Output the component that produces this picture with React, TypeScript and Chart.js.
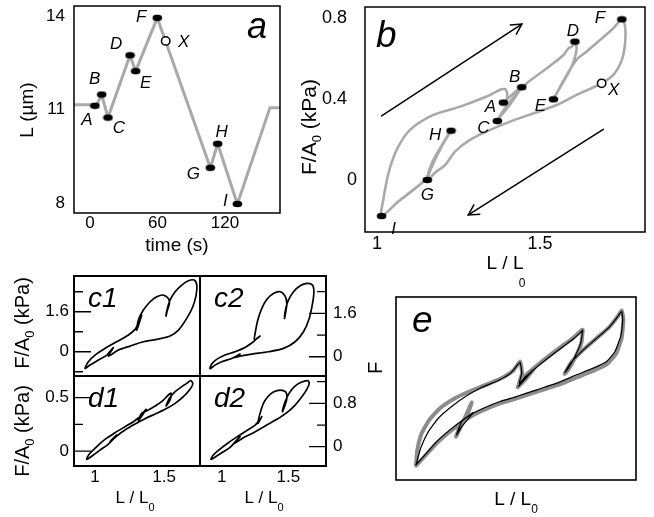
import React, { useEffect, useRef } from 'react';
import { Chart, registerables } from 'chart.js';

Chart.register(...registerables);

const W = 654;
const H = 517;
const FONT = '"Liberation Sans", Arial, Helvetica, sans-serif';
const GRAY = '#a9a9a9';

// ---------------- panel a : length vs time ----------------
const aTime = [-14.2, 6, 10.4, 16, 35.6, 40.6, 59.8, 107, 113.5, 131, 160, 169];
const aLength = [11.15, 11.15, 11.48, 10.74, 12.74, 12.23, 13.94, 9.13, 9.9, 7.97, 11.06, 11.06];
const aMarkNames = ['A', 'B', 'C', 'D', 'E', 'F', 'G', 'H', 'I'];
const aMarkTime = [4.4, 10.4, 16, 35.6, 40.6, 59.8, 107, 113.5, 131];
const aMarkLength = [11.12, 11.48, 10.74, 12.74, 12.23, 13.94, 9.13, 9.9, 7.97];
const aOpenTime = [67.3];
const aOpenLength = [13.2];
const aXTicks = [0, 60, 120];
const aXTickLabels = ['0', '60', '120'];
const aYTicks = [8, 11, 14];
const aYTickLabels = ['8', '11', '14'];

// ---------------- panel b : stress vs strain ----------------
const bCurveX = [1.3875, 1.408, 1.428, 1.444, 1.428, 1.403, 1.382, 1.369, 1.382, 1.408, 1.434, 1.459, 1.5, 1.541, 1.572, 1.587, 1.597, 1.607, 1.612, 1.597, 1.572, 1.551, 1.541, 1.556, 1.582, 1.612, 1.643, 1.684, 1.725, 1.751, 1.761, 1.761, 1.751, 1.725, 1.689, 1.664, 1.612, 1.551, 1.48, 1.408, 1.347, 1.285, 1.239, 1.209, 1.178, 1.154, 1.168, 1.193, 1.227, 1.198, 1.168, 1.152, 1.111, 1.065, 1.014, 1.019, 1.035, 1.06, 1.101, 1.173, 1.255, 1.336, 1.382, 1.396, 1.398, 1.3875];
const bCurveY = [0.382, 0.4115, 0.441, 0.458, 0.42, 0.362, 0.321, 0.291, 0.329, 0.387, 0.436, 0.477, 0.527, 0.576, 0.617, 0.65, 0.658, 0.683, 0.642, 0.56, 0.486, 0.428, 0.398, 0.444, 0.519, 0.593, 0.634, 0.691, 0.749, 0.793, 0.757, 0.675, 0.593, 0.519, 0.477, 0.458, 0.42, 0.37, 0.329, 0.288, 0.247, 0.198, 0.14, 0.074, 0.036, 0, 0.082, 0.156, 0.244, 0.165, 0.066, 0.008, -0.049, -0.107, -0.178, -0.099, 0.033, 0.148, 0.247, 0.321, 0.362, 0.412, 0.448, 0.444, 0.395, 0.382];
const bMarkNames = ['A', 'B', 'C', 'D', 'E', 'F', 'G', 'H', 'I'];
const bMarkX = [1.3875, 1.444, 1.369, 1.607, 1.541, 1.751, 1.154, 1.227, 1.014];
const bMarkY = [0.382, 0.458, 0.291, 0.683, 0.398, 0.793, 0, 0.243, -0.178];
const bOpenX = [1.689];
const bOpenY = [0.477];
const bArrowUpX = [1.014, 1.444];
const bArrowUpY = [0.316, 0.77];
const bArrowDownX = [1.694, 1.28];
const bArrowDownY = [0.25, -0.173];
const bXTicks = [1, 1.5];
const bXTickLabels = ['1', '1.5'];
const bYTicks = [0, 0.4, 0.8];
const bYTickLabels = ['0', '0.4  ', '0.8  '];

// ---------------- panels c1, c2, d1, d2 ----------------
const c1X = [1.314, 1.338, 1.302, 1.314, 1.35, 1.399, 1.447, 1.495, 1.531, 1.539, 1.524, 1.514, 1.524, 1.543, 1.58, 1.628, 1.676, 1.717, 1.737, 1.732, 1.708, 1.664, 1.604, 1.543, 1.447, 1.35, 1.254, 1.169, 1.097, 1.133, 1.085, 1.024, 0.964, 0.928, 0.952, 1.0, 1.072, 1.157, 1.242, 1.29, 1.314];
const c1Y = [1.133, 1.467, 0.867, 1.267, 1.667, 2.0, 2.2, 2.267, 2.133, 1.933, 1.667, 1.427, 1.733, 2.067, 2.4, 2.667, 2.84, 2.867, 2.667, 2.267, 1.8, 1.333, 0.867, 0.627, 0.493, 0.4, 0.227, 0.067, -0.173, 0.173, -0.133, -0.333, -0.533, -0.667, -0.4, -0.133, 0.133, 0.4, 0.667, 0.893, 1.133];
const c2X = [1.263, 1.288, 1.246, 1.251, 1.271, 1.301, 1.338, 1.388, 1.439, 1.476, 1.489, 1.481, 1.471, 1.481, 1.501, 1.539, 1.589, 1.639, 1.682, 1.692, 1.682, 1.657, 1.614, 1.551, 1.464, 1.351, 1.226, 1.138, 1.095, 1.138, 1.075, 1.0, 0.95, 0.912, 0.925, 0.962, 1.025, 1.1, 1.175, 1.238, 1.263];
const c2Y = [0.677, 0.763, 0.615, 0.861, 1.353, 1.784, 2.116, 2.337, 2.399, 2.239, 1.968, 1.661, 1.415, 1.784, 2.091, 2.399, 2.62, 2.706, 2.645, 2.399, 1.968, 1.415, 0.923, 0.554, 0.308, 0.185, 0.098, 0.025, -0.025, 0.098, -0.062, -0.185, -0.308, -0.443, -0.271, -0.098, 0.062, 0.185, 0.344, 0.554, 0.677];
const d1X = [1.326, 1.37, 1.314, 1.338, 1.386, 1.447, 1.495, 1.531, 1.551, 1.543, 1.514, 1.539, 1.58, 1.628, 1.664, 1.693, 1.708, 1.688, 1.64, 1.58, 1.507, 1.435, 1.362, 1.29, 1.217, 1.157, 1.109, 1.157, 1.097, 1.036, 0.988, 0.94, 0.959, 1.007, 1.072, 1.145, 1.217, 1.278, 1.326];
const d1Y = [0.322, 0.391, 0.284, 0.353, 0.384, 0.431, 0.478, 0.525, 0.541, 0.478, 0.422, 0.494, 0.556, 0.603, 0.634, 0.659, 0.628, 0.578, 0.509, 0.447, 0.391, 0.347, 0.303, 0.253, 0.197, 0.141, 0.0875, 0.15, 0.066, 0.009, -0.0375, -0.078, -0.028, 0.034, 0.109, 0.172, 0.228, 0.275, 0.322];
const d2X = [1.281, 1.301, 1.271, 1.288, 1.313, 1.346, 1.388, 1.439, 1.481, 1.489, 1.476, 1.456, 1.476, 1.506, 1.546, 1.596, 1.647, 1.657, 1.639, 1.602, 1.551, 1.489, 1.414, 1.326, 1.238, 1.163, 1.088, 1.138, 1.063, 1.013, 0.962, 0.92, 0.937, 0.987, 1.05, 1.125, 1.195, 1.251, 1.281];
const d2Y = [0.48, 0.554, 0.431, 0.615, 0.8, 0.923, 1.009, 1.046, 1.009, 0.892, 0.769, 0.646, 0.831, 0.985, 1.108, 1.188, 1.218, 1.169, 1.058, 0.923, 0.769, 0.628, 0.505, 0.382, 0.258, 0.166, 0.049, 0.185, -0.012, -0.092, -0.172, -0.234, -0.154, -0.043, 0.074, 0.197, 0.308, 0.4, 0.48];
const cdXTicks = [1, 1.5];
const cdXTickLabels = ['1', '1.5'];
const c1YTicks = [0, 1.6];
const c1YTickLabels = ['0', '1.6'];
const c1MinorTicks = [-0.8, 0, 0.8, 1.6, 2.4];
const c2YTicks = [0, 1.6];
const c2YTickLabels = ['0', '1.6'];
const c2MinorTicks = [0, 0.8, 1.6, 2.4];
const d1YTicks = [0, 0.5];
const d1YTickLabels = ['0', '0.5'];
const d1MinorTicks = [0, 0.25, 0.5];
const d2YTicks = [0, 0.8];
const d2YTickLabels = ['0', '0.8'];
const d2MinorTicks = [0, 0.4, 0.8, 1.2];

// ---------------- panel e ----------------
const eBlackX = [1.025, 1.0425, 1.07125, 1.10875, 1.15875, 1.215, 1.27125, 1.33375, 1.38, 1.415, 1.42125, 1.4125, 1.44, 1.465, 1.43375, 1.40875, 1.43375, 1.4775, 1.5275, 1.5775, 1.615, 1.6425, 1.65, 1.6425, 1.62125, 1.59625, 1.58375, 1.6025, 1.64625, 1.69625, 1.74625, 1.7775, 1.79625, 1.8, 1.7925, 1.77125, 1.74, 1.69, 1.6275, 1.5525, 1.4775, 1.4025, 1.34, 1.2775, 1.2275, 1.19625, 1.1775, 1.19625, 1.24, 1.20875, 1.1525, 1.1025, 1.05875, 1.025];
const eBlackY = [0.1125, 0.2375, 0.3625, 0.4625, 0.55, 0.63, 0.6925, 0.745, 0.8, 0.88, 0.8, 0.725, 0.78, 0.825, 0.755, 0.7, 0.77, 0.845, 0.925, 1.0, 1.055, 1.105, 1.12, 1.025, 0.925, 0.8375, 0.805, 0.87, 0.9625, 1.05, 1.1375, 1.2125, 1.2625, 1.2, 1.075, 0.9625, 0.8875, 0.8375, 0.7875, 0.725, 0.675, 0.625, 0.5875, 0.5375, 0.4875, 0.4375, 0.3375, 0.4, 0.505, 0.4625, 0.375, 0.2875, 0.1875, 0.1125];
const eGrayX = [1.025, 1.03, 1.04625, 1.075, 1.115, 1.17125, 1.23375, 1.29625, 1.3525, 1.39, 1.415, 1.4225, 1.41, 1.4425, 1.4675, 1.43375, 1.40625, 1.43375, 1.4775, 1.5275, 1.5775, 1.615, 1.6425, 1.65, 1.645, 1.6225, 1.5975, 1.5825, 1.605, 1.65, 1.7, 1.75, 1.78, 1.79625, 1.8025, 1.79625, 1.775, 1.7425, 1.6925, 1.63, 1.555, 1.48, 1.405, 1.3425, 1.28, 1.23, 1.19625, 1.175, 1.19625, 1.23375, 1.20875, 1.1525, 1.1025, 1.05875, 1.025];
const eGrayY = [0.1125, 0.225, 0.35, 0.45, 0.5375, 0.6125, 0.67, 0.72, 0.77, 0.82, 0.8875, 0.8, 0.7125, 0.7875, 0.835, 0.75, 0.695, 0.78, 0.855, 0.935, 1.01, 1.065, 1.115, 1.125, 1.025, 0.92, 0.83, 0.795, 0.875, 0.97, 1.0575, 1.145, 1.22, 1.27, 1.2, 1.0625, 0.945, 0.87, 0.82, 0.77, 0.71, 0.6625, 0.6125, 0.575, 0.525, 0.475, 0.425, 0.325, 0.4125, 0.58, 0.45, 0.3625, 0.275, 0.18, 0.1075];

// ---------------- helpers ----------------
type Area = { l: number; t: number; r: number; b: number };
const zip = (xs: number[], ys: number[]) => xs.map((x, i) => ({ x, y: ys[i] }));
const fnt = (size: number, italic = false) => `${italic ? 'italic ' : ''}${size}px ${FONT}`;

let ellipseImg: HTMLCanvasElement | null = null;
function getEllipse() {
  if (!ellipseImg) {
    const c = document.createElement('canvas');
    c.width = 11;
    c.height = 8;
    const g = c.getContext('2d')!;
    g.fillStyle = '#000';
    g.beginPath();
    g.ellipse(5.5, 4, 4.8, 3.2, 0, 0, Math.PI * 2);
    g.fill();
    ellipseImg = c;
  }
  return ellipseImg;
}

function txt(ctx: any, s: string, x: number, y: number, size: number, italic = false, align = 'center', baseline = 'middle') {
  ctx.font = fnt(size, italic);
  ctx.fillStyle = '#000';
  ctx.textAlign = align;
  ctx.textBaseline = baseline;
  ctx.fillText(s, x, y);
}

function rich(ctx: any, parts: [string, boolean][], cx: number, cy: number, size: number, subSize: number, subDrop: number, rot = 0) {
  ctx.save();
  ctx.translate(cx, cy);
  ctx.rotate(rot);
  ctx.fillStyle = '#000';
  ctx.textAlign = 'left';
  ctx.textBaseline = 'alphabetic';
  const ws = parts.map(([s, sub]) => {
    ctx.font = fnt(sub ? subSize : size);
    return ctx.measureText(s).width;
  });
  let x = -ws.reduce((a, b) => a + b, 0) / 2;
  const base = size * 0.36;
  parts.forEach(([s, sub], i) => {
    ctx.font = fnt(sub ? subSize : size);
    ctx.fillText(s, x, base + (sub ? subDrop : 0));
    x += ws[i];
  });
  ctx.restore();
}

function frame(ctx: any, chart: any, lw: number) {
  const a = chart.chartArea;
  ctx.lineWidth = lw;
  ctx.strokeStyle = '#000';
  ctx.strokeRect(a.left, a.top, a.right - a.left, a.bottom - a.top);
}

function innerTicks(ctx: any, chart: any, values: number[], longValues: number[], side: string) {
  const a = chart.chartArea;
  const ys = chart.scales.y;
  ctx.lineWidth = 1.3;
  ctx.strokeStyle = '#000';
  ctx.beginPath();
  values.forEach((v) => {
    const py = ys.getPixelForValue(v);
    const len = longValues.includes(v) ? 17 : 9;
    if (side === 'left') {
      ctx.moveTo(a.left, py);
      ctx.lineTo(a.left + len, py);
    } else {
      ctx.moveTo(a.right, py);
      ctx.lineTo(a.right - len, py);
    }
  });
  ctx.stroke();
}

function pointNames(ctx: any, chart: any, xs: number[], ys: number[], names: string[], offs: number[][], size: number) {
  const sx = chart.scales.x;
  const sy = chart.scales.y;
  names.forEach((n, i) => {
    txt(ctx, n, sx.getPixelForValue(xs[i]) + offs[i][0], sy.getPixelForValue(ys[i]) + offs[i][1], size, true);
  });
}

function arrowHead(ctx: any, chart: any, xs: number[], ys: number[]) {
  const sx = chart.scales.x;
  const sy = chart.scales.y;
  const x0 = sx.getPixelForValue(xs[0]);
  const y0 = sy.getPixelForValue(ys[0]);
  const x1 = sx.getPixelForValue(xs[1]);
  const y1 = sy.getPixelForValue(ys[1]);
  const ang = Math.atan2(y1 - y0, x1 - x0);
  const L = 12;
  const sp = 0.5;
  ctx.lineWidth = 1.5;
  ctx.strokeStyle = '#000';
  ctx.beginPath();
  ctx.moveTo(x1 - L * Math.cos(ang - sp), y1 - L * Math.sin(ang - sp));
  ctx.lineTo(x1, y1);
  ctx.lineTo(x1 - L * Math.cos(ang + sp), y1 - L * Math.sin(ang + sp));
  ctx.stroke();
}

// boxSize: the thickness the axis occupies (from the plot edge to the canvas edge)
function scale(min: number, max: number, ticks: number[], labels: string[], position: string, size: number, padding: number, boxSize: number) {
  const horizontal = position === 'bottom' || position === 'top';
  return {
    type: 'linear',
    position,
    min,
    max,
    grid: { display: false, drawTicks: false, tickLength: 0 },
    border: { display: false },
    afterFit: (s: any) => {
      if (horizontal) s.height = boxSize;
      else s.width = boxSize;
      s.paddingTop = 0;
      s.paddingBottom = 0;
      s.paddingLeft = 0;
      s.paddingRight = 0;
    },
    afterBuildTicks: (s: any) => {
      if (ticks.length) s.ticks = ticks.map((v) => ({ value: v }));
    },
    ticks: {
      display: ticks.length > 0,
      autoSkip: false,
      maxRotation: 0,
      minRotation: 0,
      padding,
      color: '#000',
      font: { family: FONT, size },
      callback: (_v: any, i: number) => (labels[i] !== undefined ? labels[i] : ''),
    },
  };
}

function lineDs(data: any[], color: string, width: number, tension: number, order: number) {
  return {
    data,
    showLine: true,
    borderColor: color,
    backgroundColor: color,
    borderWidth: width,
    pointRadius: 0,
    pointHoverRadius: 0,
    tension,
    fill: false,
    order,
    borderJoinStyle: 'round',
    borderCapStyle: 'round',
  };
}

function dotsDs(data: any[]) {
  return { data, showLine: false, pointStyle: getEllipse(), pointRadius: 5, pointHoverRadius: 5, order: 0 };
}

function openDs(data: any[]) {
  return {
    data,
    showLine: false,
    pointStyle: 'circle',
    pointRadius: 4.2,
    pointHoverRadius: 4.2,
    pointBackgroundColor: '#fff',
    pointBorderColor: '#000',
    pointBorderWidth: 1.5,
    backgroundColor: '#fff',
    borderColor: '#000',
    order: 0,
  };
}

// the y axis sits on `ySide`; the x axis at the bottom. Axis boxes reach the canvas edge.
function config(area: Area, ySide: string, scales: any, datasets: any[], draw: (ctx: any, chart: any) => void) {
  return {
    type: 'scatter',
    data: { datasets },
    options: {
      responsive: false,
      animation: false,
      devicePixelRatio: 1,
      events: [],
      layout: {
        padding: {
          left: ySide === 'left' ? 0 : area.l,
          right: ySide === 'right' ? 0 : W - area.r,
          top: area.t,
          bottom: 0,
        },
      },
      scales,
      plugins: { legend: { display: false }, tooltip: { enabled: false }, title: { display: false } },
    },
    plugins: [
      {
        id: 'decor',
        afterDraw: (chart: any) => {
          const ctx = chart.ctx;
          ctx.save();
          draw(ctx, chart);
          ctx.restore();
        },
      },
    ],
  };
}

const FA0: [string, boolean][] = [['F/A', false], ['0', true], [' (kPa)', false]];
const LL0: [string, boolean][] = [['L / L', false], ['0', true]];

// ---------------- panels ----------------
const buildA = () => {
  const area = { l: 74, t: 6, r: 280, b: 213 };
  return config(
    area,
    'left',
    {
      x: scale(-14.2, 168.9, aXTicks, aXTickLabels, 'bottom', 17, 0, H - area.b),
      y: scale(7.68, 14.32, aYTicks, aYTickLabels, 'left', 17, 9, area.l),
    },
    [lineDs(zip(aTime, aLength), GRAY, 3, 0, 2), dotsDs(zip(aMarkTime, aMarkLength)), openDs(zip(aOpenTime, aOpenLength))],
    (ctx, chart) => {
      frame(ctx, chart, 1.5);
      pointNames(ctx, chart, aMarkTime, aMarkLength, aMarkNames,
        [[-8, 15], [-7, -15], [11, 11], [-14, -11], [10, 12], [-16, -1], [-17, 6], [4, -12], [-12, -3]], 17);
      pointNames(ctx, chart, aOpenTime, aOpenLength, ['X'], [[18, 1]], 17);
      txt(ctx, 'a', 247, 38, 36, true, 'left', 'alphabetic');
      rich(ctx, [['L (\u00b5m)', false]], 26, 110, 19, 12, 0, -Math.PI / 2);
      rich(ctx, [['time (s)', false]], 177, 244, 19, 12, 0);
    }
  );
};

const buildB = () => {
  const area = { l: 365, t: 7, r: 645, b: 232 };
  return config(
    area,
    'left',
    {
      x: scale(0.963, 1.822, bXTicks, bXTickLabels, 'bottom', 18, 1, H - area.b),
      y: scale(-0.257, 0.854, bYTicks, bYTickLabels, 'left', 18, 8, area.l),
    },
    [
      lineDs(zip(bCurveX, bCurveY), GRAY, 2.6, 0.3, 2),
      lineDs(zip(bArrowUpX, bArrowUpY), '#000', 1.5, 0, 1),
      lineDs(zip(bArrowDownX, bArrowDownY), '#000', 1.5, 0, 1),
      dotsDs(zip(bMarkX, bMarkY)),
      openDs(zip(bOpenX, bOpenY)),
    ],
    (ctx, chart) => {
      frame(ctx, chart, 1.5);
      arrowHead(ctx, chart, bArrowUpX, bArrowUpY);
      arrowHead(ctx, chart, bArrowDownX, bArrowDownY);
      pointNames(ctx, chart, bMarkX, bMarkY, bMarkNames,
        [[-13, 5], [-7, -10], [-14, 7], [-2, -10], [-13, 7], [-22, -1], [0, 15], [-16, 5], [12, 13]], 17);
      pointNames(ctx, chart, bOpenX, bOpenY, ['X'], [[12, 7]], 17);
      txt(ctx, 'b', 376, 47, 37, true, 'left', 'alphabetic');
      rich(ctx, FA0, 308, 127, 21, 13, 5, -Math.PI / 2);
      rich(ctx, [['L / L', false]], 505, 262, 19, 12, 0);
      txt(ctx, '0', 522, 284, 12);
    }
  );
};

const buildCD = (
  area: Area,
  xmin: number,
  xmax: number,
  ymin: number,
  ymax: number,
  xs: number[],
  ys: number[],
  yTicks: number[],
  yLabels: string[],
  minor: number[],
  side: string,
  showX: boolean,
  name: string,
  extra: (ctx: any) => void
) =>
  config(
    area,
    side,
    {
      x: scale(xmin, xmax, showX ? cdXTicks : [], showX ? cdXTickLabels : [], 'bottom', 17, 1, H - area.b),
      y: scale(ymin, ymax, yTicks, yLabels, side, 17, side === 'left' ? 5 : 7, side === 'left' ? area.l : W - area.r),
    },
    [lineDs(zip(xs, ys), '#000', 1.7, 0.3, 1)],
    (ctx, chart) => {
      frame(ctx, chart, 2);
      innerTicks(ctx, chart, minor, yTicks, side);
      txt(ctx, name, area.l + 14, area.t + 31, 28, true, 'left', 'alphabetic');
      extra(ctx);
    }
  );

const buildC1 = () =>
  buildCD({ l: 74, t: 276, r: 200, b: 376 }, 0.848, 1.76, -0.97, 3.03, c1X, c1Y, c1YTicks, c1YTickLabels, c1MinorTicks, 'left', false, 'c1',
    (ctx) => rich(ctx, FA0, 22, 323, 20, 13, 5, -Math.PI / 2));
const buildC2 = () =>
  buildCD({ l: 200, t: 276, r: 326, b: 376 }, 0.837, 1.783, -0.71, 2.98, c2X, c2Y, c2YTicks, c2YTickLabels, c2MinorTicks, 'right', false, 'c2', () => {});
const buildD1 = () =>
  buildCD({ l: 74, t: 376, r: 200, b: 466 }, 0.848, 1.76, -0.14, 0.703, d1X, d1Y, d1YTicks, d1YTickLabels, d1MinorTicks, 'left', true, 'd1',
    (ctx) => {
      rich(ctx, FA0, 22, 431, 20, 13, 5, -Math.PI / 2);
      rich(ctx, LL0, 135, 497, 17, 11, 8);
    });
const buildD2 = () =>
  buildCD({ l: 200, t: 376, r: 326, b: 466 }, 0.837, 1.783, -0.356, 1.305, d2X, d2Y, d2YTicks, d2YTickLabels, d2MinorTicks, 'right', true, 'd2',
    (ctx) => rich(ctx, LL0, 264, 497, 17, 11, 8));

const buildE = () => {
  const area = { l: 396, t: 297, r: 636, b: 480 };
  return config(
    area,
    'left',
    {
      x: scale(0.95, 1.85, [], [], 'bottom', 15, 0, H - area.b),
      y: scale(0, 1.37, [], [], 'left', 15, 0, area.l),
    },
    [lineDs(zip(eGrayX, eGrayY), '#8c8c8c', 4, 0.15, 2), lineDs(zip(eBlackX, eBlackY), '#000', 1.2, 0.15, 1)],
    (ctx, chart) => {
      frame(ctx, chart, 1.6);
      txt(ctx, 'e', 412, 332, 37, true, 'left', 'alphabetic');
      rich(ctx, [['F', false]], 375, 368, 20, 12, 0, -Math.PI / 2);
      rich(ctx, LL0, 516, 498, 19, 12, 8);
    }
  );
};

const builders = [buildA, buildB, buildC1, buildC2, buildD1, buildD2, buildE];

function Panel({ build }: { build: () => any }) {
  const ref = useRef<HTMLCanvasElement | null>(null);
  useEffect(() => {
    const chart = new Chart(ref.current as HTMLCanvasElement, build() as any);
    return () => chart.destroy();
  }, [build]);
  return <canvas ref={ref} width={W} height={H} style={{ position: 'absolute', left: 0, top: 0, width: W, height: H }} />;
}

export default function App() {
  return (
    <div style={{ position: 'absolute', left: 0, top: 0, width: W, height: H, background: '#fff', overflow: 'hidden' }}>
      {builders.map((b, i) => (
        <Panel key={i} build={b} />
      ))}
    </div>
  );
}
